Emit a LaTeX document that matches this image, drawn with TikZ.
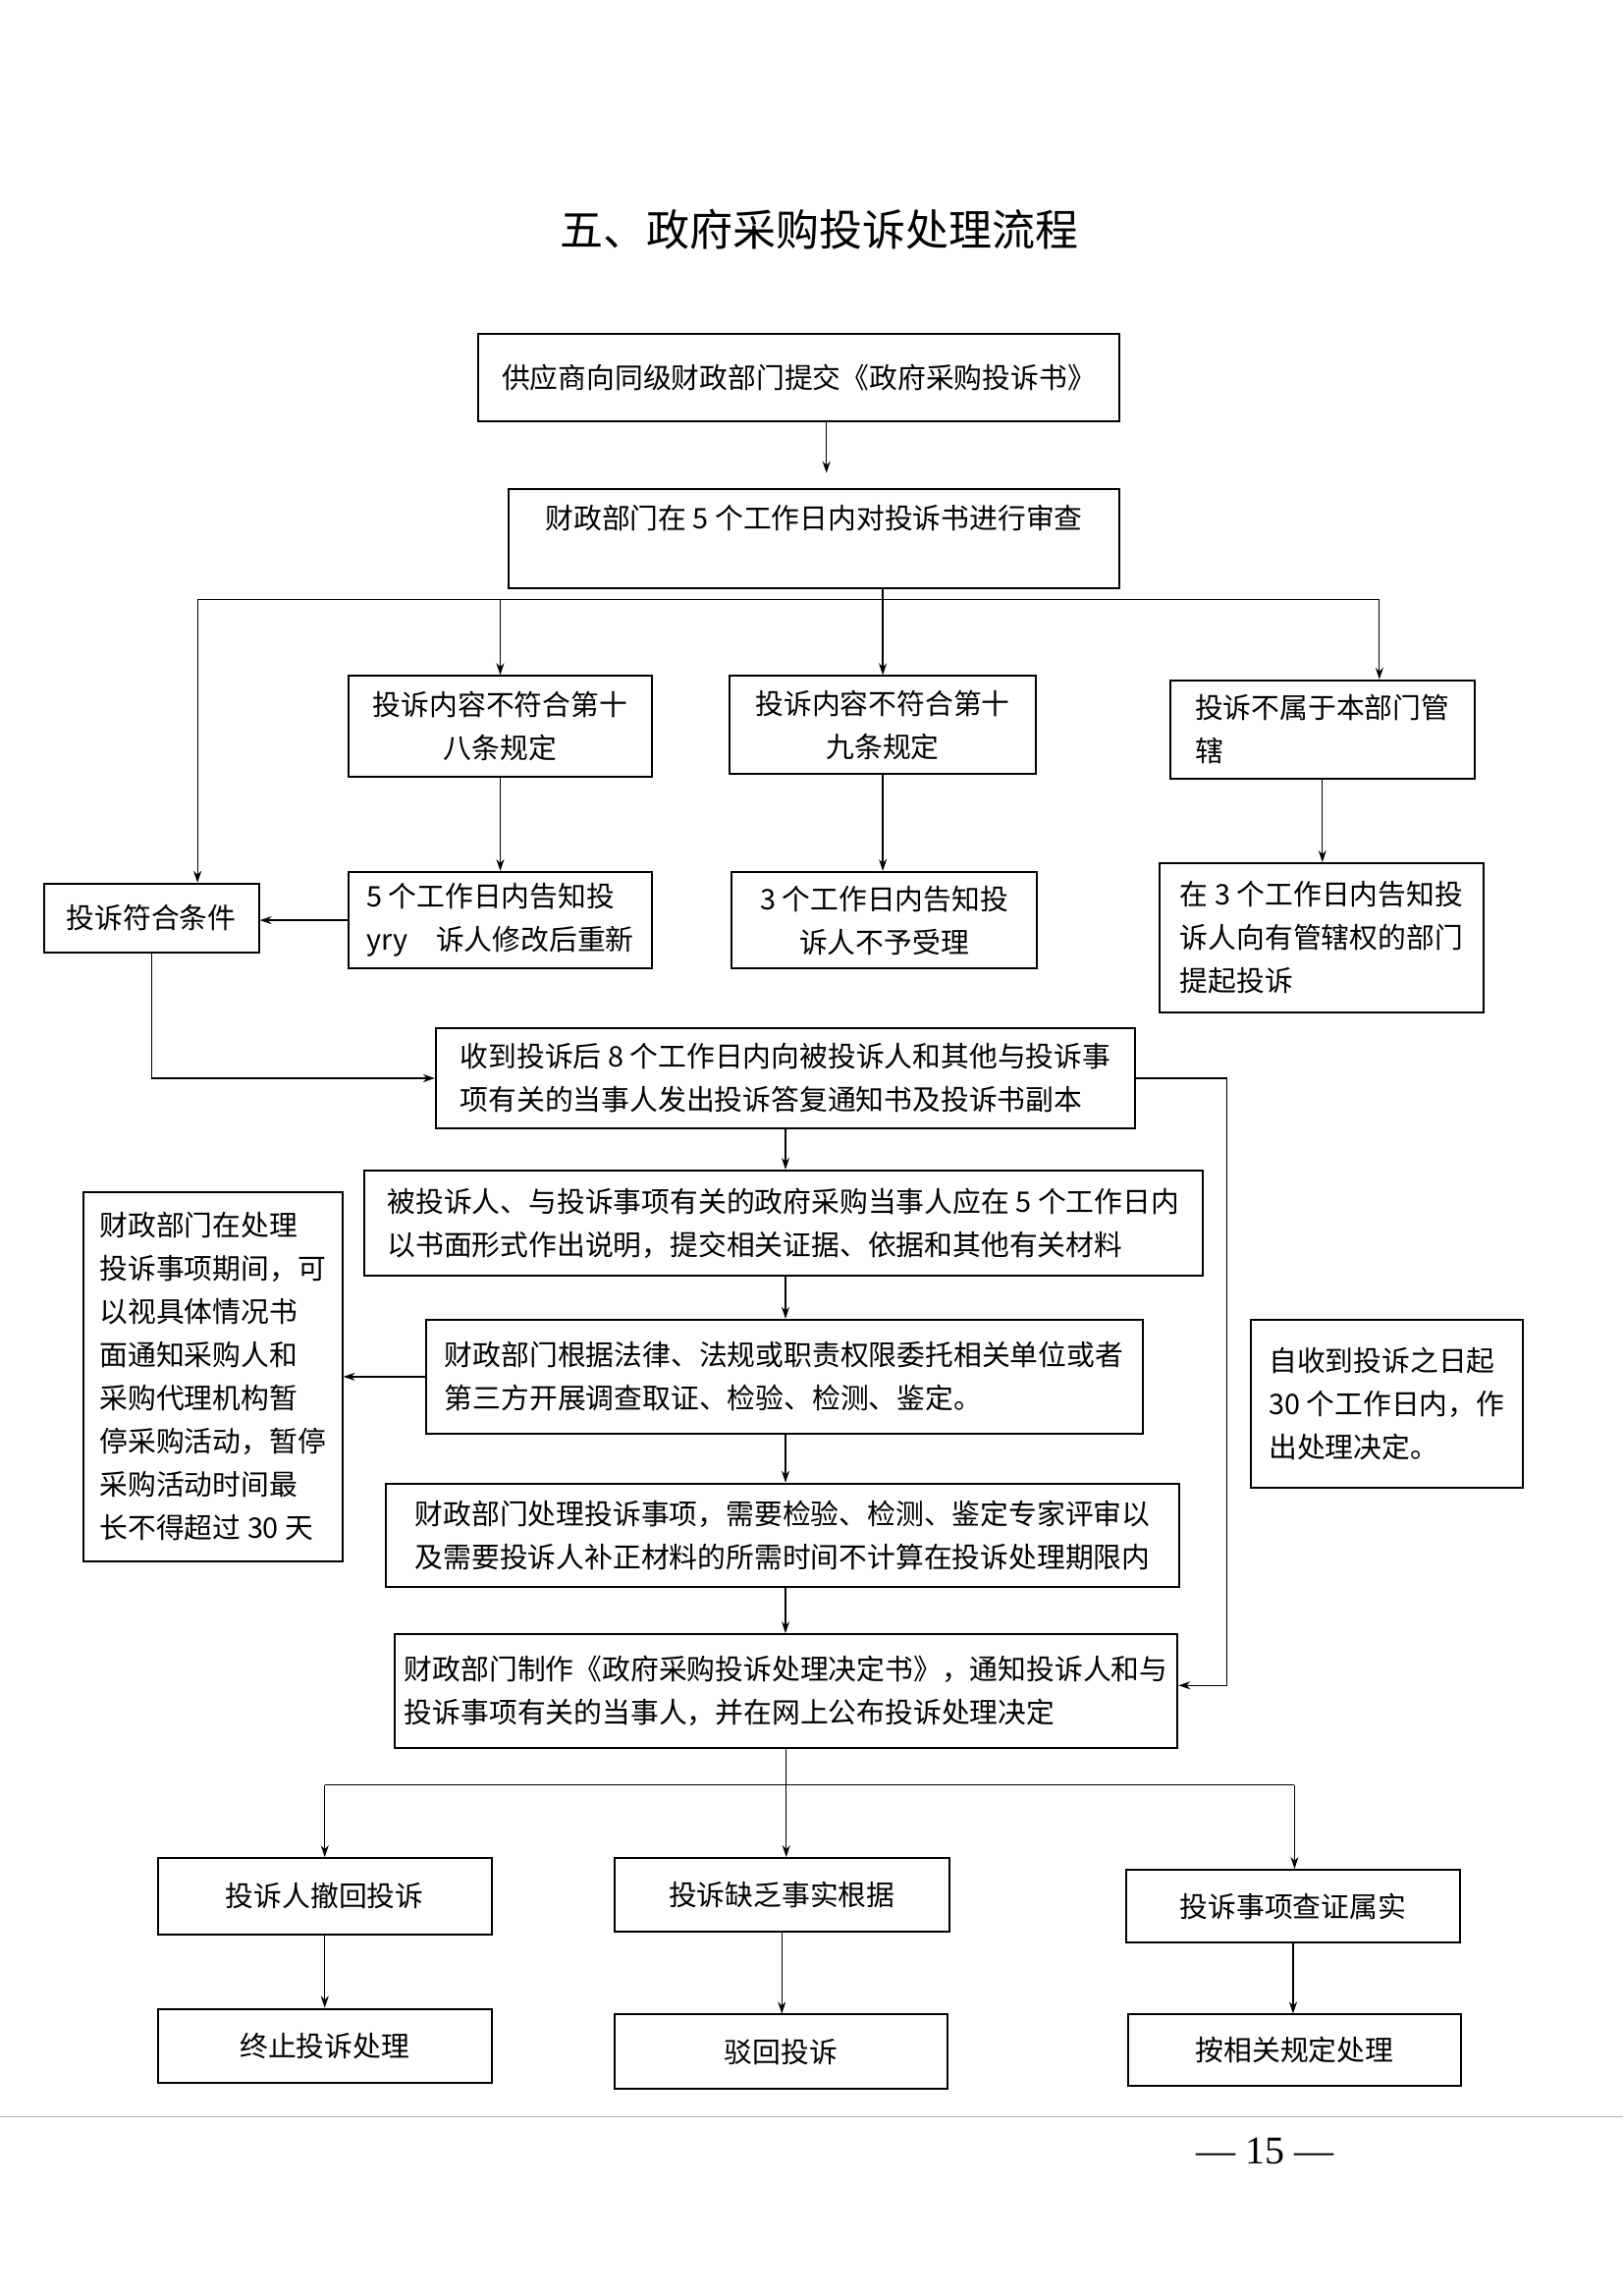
\documentclass[tikz,border=0pt]{standalone}
\usepackage{fontspec}
\setmainfont{Liberation Serif}
\newfontfamily\cjk{Noto Sans CJK SC}
\usetikzlibrary{arrows.meta,calc}
\tikzset{
  box/.style={draw,line width=1pt,inner sep=0pt,font=\cjk\fontsize{14.4}{22}\selectfont},
  sz/.style 2 args={minimum width={#1*0.7449pt},minimum height={#2*0.7449pt}},
  ln/.style={line width=0.6pt},
  arr/.style={line width=0.6pt,-{Stealth[length=6pt,width=4pt]}}}
\begin{document}
\begin{tikzpicture}[x=0.7449pt,y=-0.7449pt]
\useasboundingbox[fill=white] (0,0) rectangle (1109.6,1568);

\node (title) at (560,157) {\cjk\fontsize{22}{26}\selectfont 五、政府采购投诉处理流程};

\node[box,sz={438}{60}] (b1) at (546,258) {供应商向同级财政部门提交《政府采购投诉书》};
\node[box,sz={417}{68},align=center] (b2) at (556.5,368) {财政部门在 5 个工作日内对投诉书进行审查\\\mbox{}};
\node[box,sz={208}{69},align=center] (A) at (342,496.5) {投诉内容不符合第十\\八条规定};
\node[box,sz={209}{67},align=center] (B) at (603.5,495.5) {投诉内容不符合第十\\九条规定};
\node[box,sz={208}{67},align=left] (C) at (904,498.5) {投诉不属于本部门管\\辖};
\node[box,sz={147}{47}] (D) at (103.5,627.5) {投诉符合条件};
\node[box,sz={208}{66},align=left] (E) at (342,629) {5 个工作日内告知投\\yry\hspace{1em}诉人修改后重新};
\node[box,sz={209}{66},align=center] (F) at (604.5,629) {3 个工作日内告知投\\诉人不予受理};
\node[box,sz={221}{102},align=left] (G) at (903.5,641) {在 3 个工作日内告知投\\诉人向有管辖权的部门\\提起投诉};
\node[box,sz={478}{68},align=left] (H) at (537,737) {收到投诉后 8 个工作日内向被投诉人和其他与投诉事\\项有关的当事人发出投诉答复通知书及投诉书副本};
\node[box,sz={573}{72},align=left] (I) at (535.5,836) {被投诉人、与投诉事项有关的政府采购当事人应在 5 个工作日内\\以书面形式作出说明，提交相关证据、依据和其他有关材料};
\node[box,sz={490}{78},align=left] (J) at (536,941) {财政部门根据法律、法规或职责权限委托相关单位或者\\第三方开展调查取证、检验、检测、鉴定。};
\node[box,sz={177}{252},align=left] (K) at (145.5,941) {财政部门在处理\\投诉事项期间，可\\以视具体情况书\\面通知采购人和\\采购代理机构暂\\停采购活动，暂停\\采购活动时间最\\长不得超过 30 天};
\node[box,sz={542}{71},align=left] (M) at (535,1049.5) {财政部门处理投诉事项，需要检验、检测、鉴定专家评审以\\及需要投诉人补正材料的所需时间不计算在投诉处理期限内};
\node[box,sz={535}{78},align=left] (L) at (537.5,1156) {财政部门制作《政府采购投诉处理决定书》，通知投诉人和与\\投诉事项有关的当事人，并在网上公布投诉处理决定};
\node[box,sz={186}{115},align=left] (N) at (948,959.5) {自收到投诉之日起\\30 个工作日内，作\\出处理决定。};
\node[box,sz={228}{52}] (P) at (222,1296) {投诉人撤回投诉};
\node[box,sz={229}{50}] (Q) at (534.5,1295) {投诉缺乏事实根据};
\node[box,sz={228}{50}] (R) at (884,1303) {投诉事项查证属实};
\node[box,sz={228}{51}] (S) at (222,1398.5) {终止投诉处理};
\node[box,sz={228}{51}] (T) at (534,1402.5) {驳回投诉};
\node[box,sz={228}{49}] (U) at (885,1401.5) {按相关规定处理};

% connectors
\coordinate (tl) at (135,410);
\coordinate (tr) at (943,410);
\draw[ln] (tl) -- (tr);
\draw[arr] ($(b1.south)+(19,0)$) -- ($(b2.north)+(8.5,-10)$);
\draw[arr] (b2.south -| B.north) -- (B.north);
\draw[arr] (A.north |- tl) -- (A.north);
\draw[arr] (tr) -- (tr |- C.north);
\draw[arr] (tl) -- (tl |- D.north);
\draw[arr] (A.south) -- (E.north);
\draw[arr] (B.south) -- (B.south |- F.north);
\draw[arr] (C.south) -- (C.south |- G.north);
\draw[arr] (E.west) -- (E.west -| D.east);
\draw[arr] (D.south) |- (H.west);
\draw[arr] (H.east) -- ++(62,0) |- ($(L.east)+(0,-4)$);
\draw[arr] (H.south) -- (H.south |- I.north);
\draw[arr] (H.south |- I.south) -- (H.south |- J.north);
\draw[arr] (J.west) -- (J.west -| K.east);
\draw[arr] (H.south |- J.south) -- (H.south |- M.north);
\draw[arr] (H.south |- M.south) -- (H.south |- L.north);
\coordinate (bl) at (222,1220);
\coordinate (br) at (885,1220);
\draw[ln] (L.south) -- (L.south |- bl);
\draw[ln] (bl) -- (br);
\draw[arr] (bl) -- (bl |- P.north);
\draw[arr] (L.south |- bl) -- (L.south |- Q.north);
\draw[arr] (br) -- (br |- R.north);
\draw[arr] (P.south) -- (S.north);
\draw[arr] (Q.south) -- (Q.south |- T.north);
\draw[arr] (R.south) -- (R.south |- U.north);

% footer
\draw[gray!60,line width=0.5pt] (0,1447) -- (1109.6,1447);
\node (pg) at (865,1470) {\fontsize{20}{24}\selectfont — 15 —};
\end{tikzpicture}
\end{document}
